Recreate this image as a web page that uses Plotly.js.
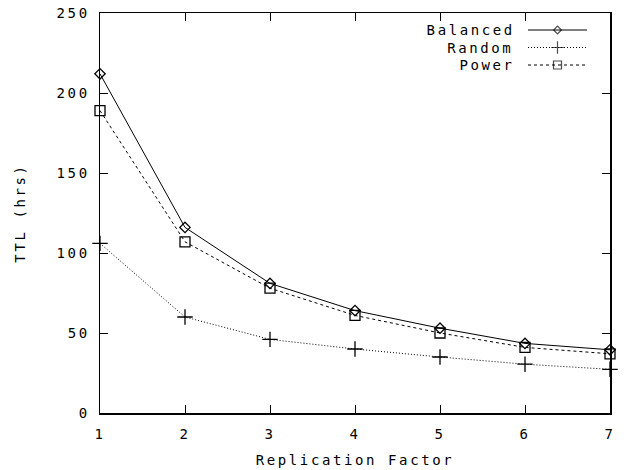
<!DOCTYPE html>
<html>
<head>
<meta charset="utf-8">
<script src="https://cdn.plot.ly/plotly-3.0.1.min.js"></script>
<style>
html,body{margin:0;padding:0;background:#fff;}
#plot{width:624px;height:470px;}
#plot text{letter-spacing:2.6px;}
</style>
</head>
<body>
<div id="plot"></div>
<script>
const replicationFactor = [1, 2, 3, 4, 5, 6, 7];
const balancedTTL = [212, 116, 81, 64, 53, 43.5, 39.5];
const randomTTL = [106, 60, 46, 40, 35, 30.5, 27.3];
const powerTTL = [189, 107, 78, 61, 50, 41, 37];
const seriesNames = ['Balanced', 'Random', 'Power'];
const xTicks = [1, 2, 3, 4, 5, 6, 7];
const yTicks = [0, 50, 100, 150, 200, 250];

const FONT = {family: 'DejaVu Sans Mono, monospace', size: 14, color: '#000'};
const styles = [
  {dash: 'solid', symbol: 'diamond-open', size: 8, key: 6},
  {dash: '1px,2px', symbol: 'cross-thin-open', size: 11, key: 9},
  {dash: '3px,3px', symbol: 'square-open', size: 10, key: 8}
];
const series = [balancedTTL, randomTTL, powerTTL];

const traces = series.map((ys, i) => ({
  x: replicationFactor, y: ys, name: seriesNames[i],
  type: 'scatter', mode: 'lines+markers',
  line: {color: '#000', width: 1, dash: styles[i].dash},
  marker: {symbol: styles[i].symbol, size: styles[i].size, color: '#000', line: {color: '#000', width: 1.3}},
  showlegend: false, cliponaxis: false
}));

// custom gnuplot-style legend keys (pixel coordinates on an overlay axis)
const keyY = [30, 47.5, 65];
seriesNames.forEach((n, i) => {
  traces.push({
    x: [528, 557.5, 587], y: [keyY[i], keyY[i], keyY[i]],
    xaxis: 'x2', yaxis: 'y2', type: 'scatter', mode: 'lines+markers',
    line: {color: '#000', width: 1, dash: styles[i].dash},
    marker: {symbol: styles[i].symbol, size: [0, styles[i].key, 0], color: '#000', line: {color: '#000', width: 1.2}},
    showlegend: false, hoverinfo: 'skip'
  });
});

// compensate for letter-spacing overflow of right-anchored labels
const annotations = seriesNames.map((n, i) => ({
  text: n, xref: 'x2', yref: 'y2', x: 516 - n.length * 1.3, y: keyY[i],
  xanchor: 'right', yanchor: 'middle', showarrow: false, font: FONT
}));

const layout = {
  width: 624, height: 470,
  margin: {l: 100, r: 14, t: 13, b: 57},
  paper_bgcolor: '#fff', plot_bgcolor: '#fff',
  font: FONT,
  showlegend: false,
  xaxis: {
    range: [1, 7], tickvals: xTicks, ticktext: xTicks.map(String),
    ticks: 'inside', ticklen: 8, tickwidth: 1, tickcolor: '#000',
    showline: true, linecolor: '#000', linewidth: 1.5, mirror: 'ticks',
    showgrid: false, zeroline: false, ticklabelstandoff: 8,
    title: {text: 'Replication Factor', font: FONT, standoff: 14},
    tickfont: FONT
  },
  yaxis: {
    range: [0, 250], tickvals: yTicks, ticktext: yTicks.map(String),
    ticks: 'inside', ticklen: 8, tickwidth: 1, tickcolor: '#000',
    showline: true, linecolor: '#000', linewidth: 1.5, mirror: 'ticks',
    showgrid: false, zeroline: false, ticklabelstandoff: 6,
    title: {text: 'TTL (hrs)', font: FONT, standoff: 35},
    tickfont: FONT
  },
  xaxis2: {overlaying: 'x', range: [100, 610], visible: false, fixedrange: true},
  yaxis2: {overlaying: 'y', range: [413, 13], visible: false, fixedrange: true},
  annotations: annotations
};

Plotly.newPlot('plot', traces, layout, {staticPlot: true, displayModeBar: false});
</script>
</body>
</html>
